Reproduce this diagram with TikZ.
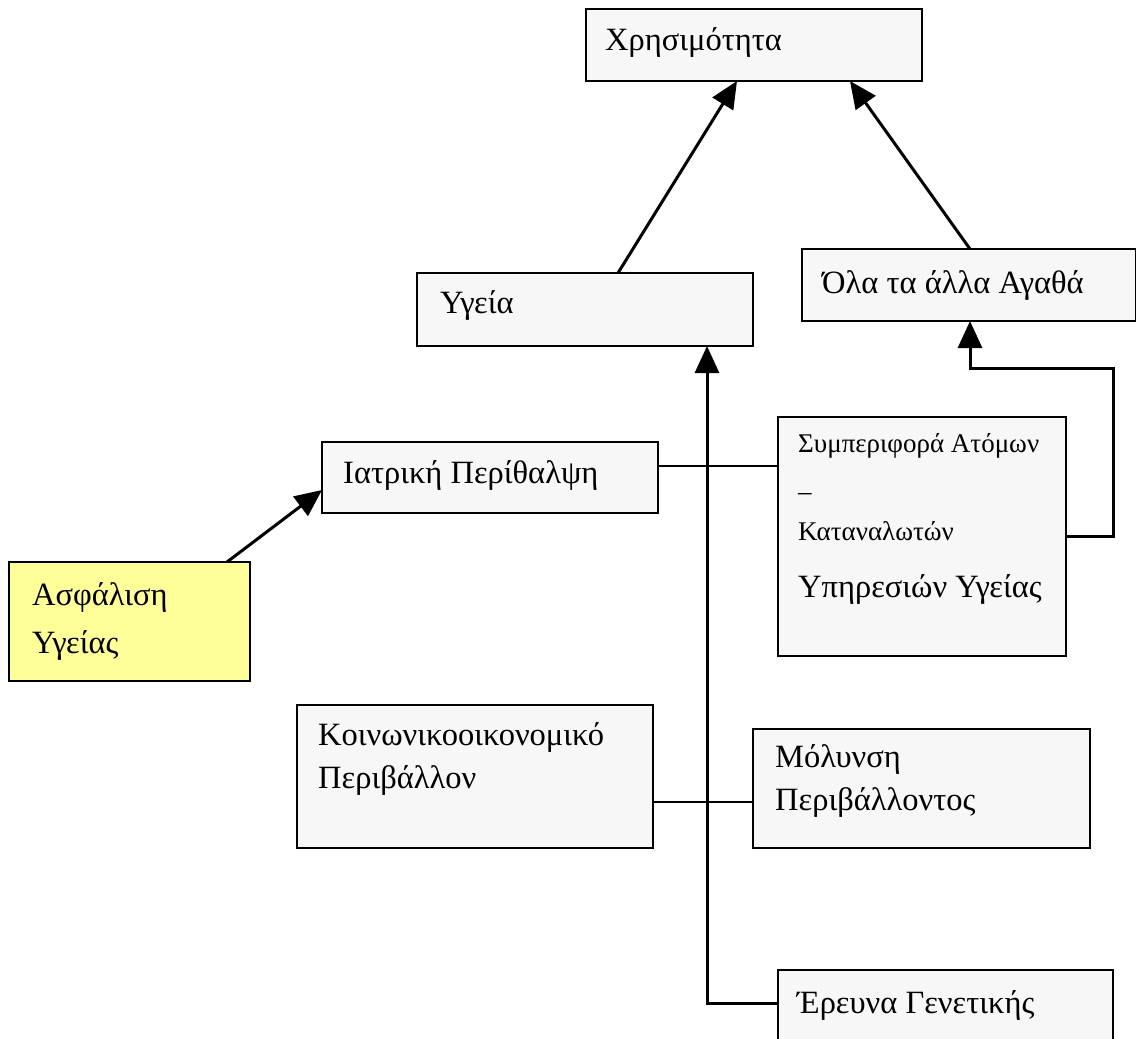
\documentclass[tikz,border=0pt]{standalone}
\usepackage{fontspec}
\setmainfont{Liberation Serif}
\usetikzlibrary{arrows.meta,calc}
\definecolor{boxfill}{HTML}{F7F7F7}
\definecolor{yellowfill}{HTML}{FFFF99}
\tikzset{
  box/.style={draw=black, line width=2.5pt, fill=boxfill, rectangle, anchor=north west, inner sep=0pt, outer sep=0pt},
  lbl/.style={anchor=base west, inner sep=0pt, font=\fontsize{32.5}{38}\selectfont},
  sml/.style={anchor=base west, inner sep=0pt, font=\fontsize{27}{30}\selectfont},
  arr/.style={line width=3pt, -{Triangle[length=27pt,width=24pt]}},
  ln/.style={line width=2pt},
}
\begin{document}
\begin{tikzpicture}[x=1pt,y=-1pt]
\useasboundingbox (0,0) rectangle (1136,1039);
\clip (0,0) rectangle (1136,1039);
% boxes
\node[box, minimum width=336pt, minimum height=72pt] (xr) at (586,9) {};
\node[box, minimum width=336pt, minimum height=73pt] (yg) at (417,273) {};
\node[box, minimum width=334pt, minimum height=72pt] (ol) at (802,249) {};
\node[box, minimum width=336pt, minimum height=71pt] (ia) at (322,442) {};
\node[box, minimum width=288pt, minimum height=239pt] (sy) at (778,417) {};
\node[box, fill=yellowfill, minimum width=241pt, minimum height=119pt] (as) at (9,562) {};
\node[box, minimum width=356pt, minimum height=143pt] (ko) at (297,705) {};
\node[box, minimum width=337pt, minimum height=119pt] (mo) at (753,729) {};
\node[box, minimum width=335pt, minimum height=90pt] (er) at (778,970) {};
% texts
\node[lbl] (txr) at (605,50) {Χρησιμότητα};
\node[lbl] (tyg) at (440,313) {Υγεία};
\node[lbl] (tol) at (822,293) {Όλα τα άλλα Αγαθά};
\node[lbl] (tia) at (343,483) {Ιατρική Περίθαλψη};
\node[sml] (tsy1) at (798,452) {Συμπεριφορά Ατόμων};
\node[sml] (tsy2) at (798,500) {–};
\node[sml] (tsy3) at (798,540) {Καταναλωτών};
\node[lbl] (tsy4) at (798,597) {Υπηρεσιών Υγείας};
\node[lbl] (tas1) at (32,605) {Ασφάλιση};
\node[lbl] (tas2) at (32,653) {Υγείας};
\node[lbl] (tko1) at (318,745) {Κοινωνικοοικονομικό};
\node[lbl] (tko2) at (318,788) {Περιβάλλον};
\node[lbl] (tmo1) at (775,767) {Μόλυνση};
\node[lbl] (tmo2) at (775,810) {Περιβάλλοντος};
\node[lbl] (ter) at (797,1013) {Έρευνα Γενετικής};
% connectors
\draw[arr] ($(yg.north west)+(201,0)$) -- ($(xr.south west)+(151,0)$);
\draw[arr] ($(ol.north west)+(168,0)$) -- ($(xr.south west)+(264,0)$);
\draw[arr] ($(sy.north west)+(288,119)$) -| ($(ol.south west)+(311,47)$) -| ($(ol.south west)+(168,0)$);
\draw[arr] ($(as.north west)+(218,0)$) -- ($(ia.north west)+(0,48)$);
\draw[ln] ($(ia.north east)+(0,24)$) -- ($(sy.north west)+(0,49)$);
\draw[ln] ($(ko.north east)+(0,97)$) -- ($(mo.north west)+(0,73)$);
\draw[arr] ($(er.north west)+(0,33)$) -| ($(yg.south west)+(290,0)$);
\end{tikzpicture}
\end{document}
